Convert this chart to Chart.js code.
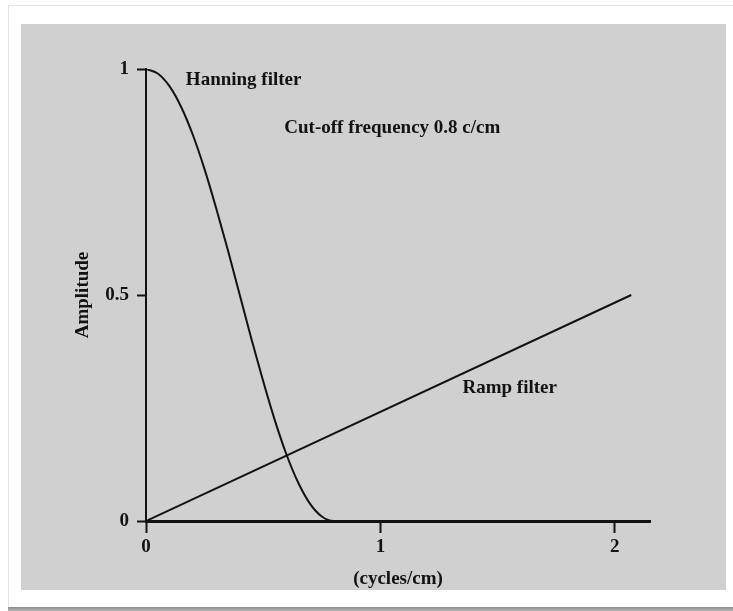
<!DOCTYPE html>
<html>
<head>
<meta charset="utf-8">
<script src="https://cdn.jsdelivr.net/npm/chart.js@4/dist/chart.umd.min.js"></script>
<style>
  html, body { margin: 0; padding: 0; background: #fff; }
  #frame { position: absolute; left: 8px; top: 5px; width: 725px; height: 602px; background: #fff;
           border-left: 1px solid #e4e4e4; border-top: 1px solid #e4e4e4; }
  #shadow { position: absolute; left: 8px; top: 607px; width: 725px; height: 4px;
            background: linear-gradient(#8c8c8c, #b5b5b5); }
  #panel { position: absolute; left: 21px; top: 24px; width: 705px; height: 566px; background: #d0d0d0; }
  #plot { position: absolute; left: 0; top: 0; }
</style>
</head>
<body>
<div id="frame"></div>
<div id="shadow"></div>
<div id="panel"></div>
<canvas id="plot" width="733" height="611"></canvas>
<script>
// Hanning window, cut-off 0.8 c/cm
const hanningFreq = [0, 0.05, 0.1, 0.15, 0.2, 0.25, 0.3, 0.35, 0.4, 0.45, 0.5, 0.55, 0.6, 0.65, 0.7, 0.75, 0.8, 0.85, 2.15];
const hanningAmp = [1, 0.990, 0.962, 0.916, 0.854, 0.778, 0.691, 0.598, 0.5, 0.402, 0.309, 0.222, 0.146, 0.084, 0.038, 0.010, 0, 0, 0];

// ramp filter
const rampFreq = [0, 2.07];
const rampAmp = [0, 0.5];

const xTicks = [0, 1, 2];
const yTicks = [0, 0.5, 1];
const xMax = 2.15;

// text notes on the plot
const noteText = ["Hanning filter", "Cut-off frequency 0.8 c/cm", "Ramp filter"];
const noteX = [0.17, 0.59, 1.35];
const noteY = [0.975, 0.87, 0.295];

const ink = "#121212";
const font = { family: "'Liberation Serif', serif", size: 19, weight: "bold" };

const notes = {
  id: "notes",
  afterDatasetsDraw(chart) {
    const { ctx, scales } = chart;
    ctx.save();
    ctx.font = "bold 19px 'Liberation Serif', serif";
    ctx.fillStyle = ink;
    ctx.textBaseline = "middle";
    noteText.forEach((t, i) => {
      ctx.fillText(t, scales.x.getPixelForValue(noteX[i]), scales.y.getPixelForValue(noteY[i]));
    });
    ctx.restore();
  },
};

const toPoints = (xs, ys) => xs.map((v, i) => ({ x: v, y: ys[i] }));

new Chart(document.getElementById("plot"), {
  type: "line",
  data: {
    datasets: [
      {
        data: toPoints(hanningFreq, hanningAmp),
        borderColor: ink,
        borderWidth: 2,
        pointRadius: 0,
        cubicInterpolationMode: "monotone",
      },
      {
        data: toPoints(rampFreq, rampAmp),
        borderColor: ink,
        borderWidth: 2,
        pointRadius: 0,
      },
    ],
  },
  options: {
    responsive: false,
    animation: false,
    events: [],
    layout: { padding: { left: 0, top: 69, right: 83, bottom: 0 } },
    plugins: { legend: { display: false }, tooltip: { enabled: false } },
    scales: {
      x: {
        type: "linear",
        min: 0,
        max: xMax,
        afterBuildTicks: (s) => { s.ticks = xTicks.map((v) => ({ value: v })); },
        afterFit: (s) => { s.height = 90; },
        border: { display: true, color: ink, width: 3 },
        grid: { drawOnChartArea: false, drawTicks: true, tickLength: 12, tickWidth: 2, tickColor: ink },
        ticks: { color: ink, font: font, padding: 3, callback: (v) => String(v) },
        title: { display: true, text: "(cycles/cm)", color: ink, font: font, padding: { top: 0, bottom: 20.6 } },
      },
      y: {
        type: "linear",
        min: 0,
        max: 1,
        afterBuildTicks: (s) => { s.ticks = yTicks.map((v) => ({ value: v })); },
        afterFit: (s) => { s.width = 146; },
        border: { display: true, color: ink, width: 2 },
        grid: { drawOnChartArea: false, drawTicks: true, tickLength: 9, tickWidth: 2, tickColor: ink },
        ticks: { color: ink, font: font, padding: 8, callback: (v) => String(v) },
        title: { display: true, text: "Amplitude", color: ink, font: font, padding: { top: 71.6, bottom: 0 } },
      },
    },
  },
  plugins: [notes],
});
</script>
</body>
</html>
